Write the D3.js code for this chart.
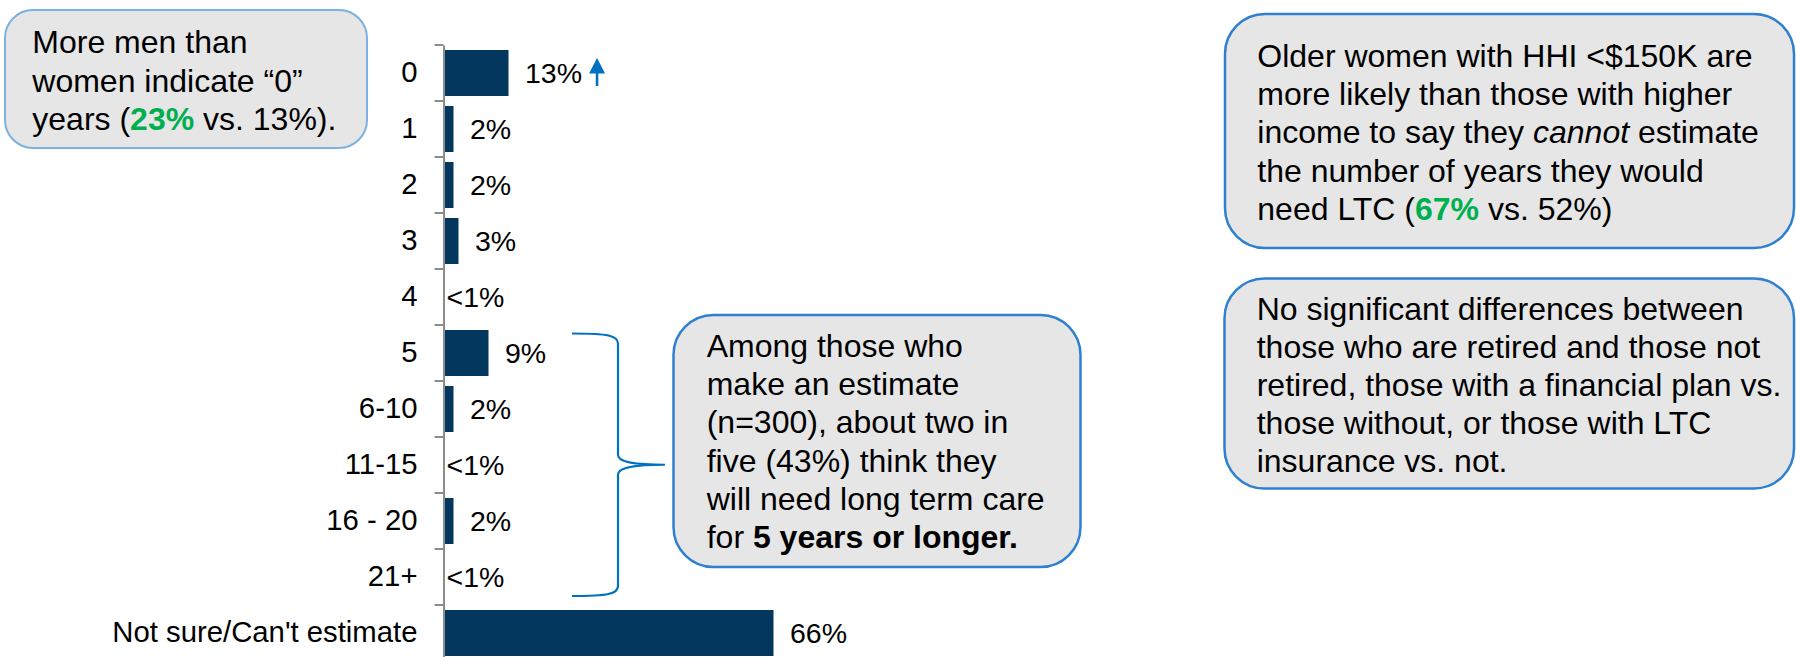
<!DOCTYPE html>
<html><head><meta charset="utf-8">
<script src="https://cdn.jsdelivr.net/npm/d3@7"></script>
<style>
body{margin:0;background:#fff}
svg{display:block}
text{font-family:"Liberation Sans",Arial,Helvetica,sans-serif;fill:#000}
</style>
</head><body>
<svg id="chart" width="1796" height="657"></svg>
<script>
// ---------- data ----------
const categories = ["0","1","2","3","4","5","6-10","11-15","16 - 20","21+","Not sure/Can't estimate"];
const values = [13,2,2,3,0,9,2,0,2,0,66];
const valueLabels = ["13%","2%","2%","3%","<1%","9%","2%","<1%","2%","<1%","66%"];
const upArrowCategories = ["0"];
const bracketFrom = "5";
const bracketTo = "21+";

// annotation texts: each line is a list of [text, style]
const noteMen = [
  [["More men than",""]],
  [["women indicate \u201C0\u201D",""]],
  [["years (",""],["23%","green"],[" vs. 13%).",""]]
];
const noteEstimate = [
  [["Among those who",""]],
  [["make an estimate",""]],
  [["(n=300), about two in",""]],
  [["five (43%) think they",""]],
  [["will need long term care",""]],
  [["for ",""],["5 years or longer.","bold"]]
];
const noteIncome = [
  [["Older women with HHI <$150K are",""]],
  [["more likely than those with higher",""]],
  [["income to say they ",""],["cannot","italic"],[" estimate",""]],
  [["the number of years they would",""]],
  [["need LTC (",""],["67%","green"],[" vs. 52%)",""]]
];
const noteNoDiff = [
  [["No significant differences between",""]],
  [["those who are retired and those not",""]],
  [["retired, those with a financial plan vs.",""]],
  [["those without, or those with LTC",""]],
  [["insurance vs. not.",""]]
];

// ---------- drawing ----------
const svg = d3.select("#chart");
const BAR = "#04375E", AXIS = "#8C8C8C", BLUE = "#0070C0", GREEN = "#00B050";

const x = d3.scaleLinear().domain([0, 100]).range([443.5, 943.5]);
const y = d3.scaleBand().domain(categories).range([45, 661])
  .paddingInner(10/56).paddingOuter(5/56);
const bw = y.bandwidth();
const gap = y.step() * y.paddingInner() / 2;

// bars
svg.append("g").selectAll("rect").data(categories).join("rect")
  .attr("x", x(0))
  .attr("y", d => y(d))
  .attr("width", (d,i) => x(values[i]) - x(0))
  .attr("height", bw)
  .attr("fill", BAR);

// axis (labels + line)
const axis = svg.append("g").attr("transform", `translate(${x(0)},0)`)
  .call(d3.axisLeft(y).tickSize(0).tickPadding(26));
axis.select(".domain").attr("stroke", AXIS).attr("stroke-width", 2);
axis.selectAll("text").attr("font-size", 29.3).attr("fill", "#000")
  .attr("font-family", "'Liberation Sans',Arial,sans-serif");
// tick marks at band boundaries
svg.append("g").selectAll("line").data(categories).join("line")
  .attr("x1", x(0) - 9).attr("x2", x(0))
  .attr("y1", d => y(d) - gap).attr("y2", d => y(d) - gap)
  .attr("stroke", AXIS).attr("stroke-width", 2);

// value labels
const vl = svg.append("g").selectAll("text").data(categories).join("text")
  .attr("x", (d,i) => values[i] > 0 ? x(values[i]) + 16.5 : x(0) + 3)
  .attr("y", d => y(d) + bw/2)
  .attr("dy", "0.35em")
  .attr("font-size", 28.5)
  .text((d,i) => valueLabels[i]);

// up arrows
vl.each(function(d){
  if (!upArrowCategories.includes(d)) return;
  const t = d3.select(this);
  const cx = +t.attr("x") + this.getComputedTextLength() + 15;
  const cy = y(d) + bw/2;
  const g = svg.append("g").attr("fill", BLUE);
  g.append("rect").attr("x", cx - 1.3).attr("y", cy - 6).attr("width", 2.6).attr("height", 19);
  g.append("path").attr("d", `M${cx},${cy-15} L${cx+8},${cy+0.5} L${cx-8},${cy+0.5} Z`);
});

// bracket
const bTop = y(bracketFrom) + 3.5, bBot = y(bracketTo) + bw - 4, bMid = (bTop + bBot) / 2;
const xa = 572, xs = 618, xt = 665;
svg.append("path")
  .attr("d", `M${xa},${bTop} C${xs-10},${bTop} ${xs},${bTop+2} ${xs},${bTop+10}
              L${xs},${bMid-10} C${xs},${bMid-4} ${xs+10},${bMid} ${xt},${bMid}
              M${xt},${bMid} C${xs+10},${bMid} ${xs},${bMid+4} ${xs},${bMid+10}
              L${xs},${bBot-10} C${xs},${bBot-2} ${xs-10},${bBot} ${xa},${bBot}`)
  .attr("fill", "none").attr("stroke", BLUE).attr("stroke-width", 2.2);

// callout boxes
function callout(box, lines, opts){
  const g = svg.append("g");
  g.append("rect").attr("x", box[0]).attr("y", box[1])
    .attr("width", box[2]).attr("height", box[3])
    .attr("rx", opts.r).attr("ry", opts.r)
    .attr("fill", "#E6E6E6").attr("stroke", opts.stroke).attr("stroke-width", opts.sw);
  lines.forEach((segs, i) => {
    const t = g.append("text").attr("x", opts.tx).attr("y", opts.ty + i * opts.lh)
      .attr("font-size", 32).attr("xml:space", "preserve");
    segs.forEach(([s, st]) => {
      const ts = t.append("tspan").text(s);
      if (st === "green") ts.attr("fill", GREEN).attr("font-weight", "bold").style("fill", GREEN);
      if (st === "bold") ts.attr("font-weight", "bold");
      if (st === "italic") ts.attr("font-style", "italic");
    });
  });
}
callout([5, 10, 362, 138], noteMen, {r: 28, stroke: "#7DB1E2", sw: 2, tx: 32.3, ty: 53.3, lh: 38.3});
callout([673.5, 315, 407, 252], noteEstimate, {r: 40, stroke: "#2F80D0", sw: 2.5, tx: 706.7, ty: 356.7, lh: 38.3});
callout([1225, 14, 569, 234], noteIncome, {r: 40, stroke: "#2F80D0", sw: 2.5, tx: 1257.3, ty: 66.5, lh: 38.4});
callout([1224.5, 278.5, 569.5, 210], noteNoDiff, {r: 40, stroke: "#2F80D0", sw: 2.5, tx: 1256.7, ty: 320, lh: 38});
</script>
</body></html>
